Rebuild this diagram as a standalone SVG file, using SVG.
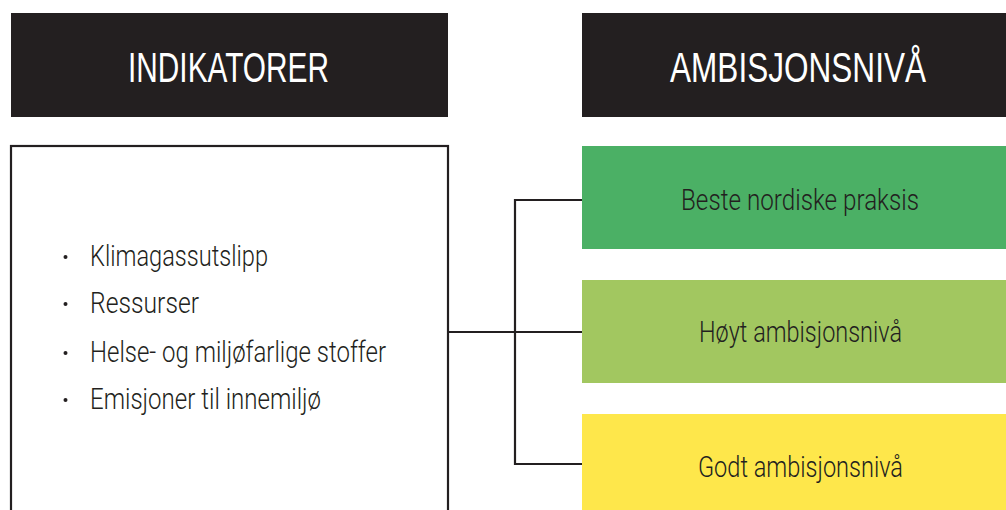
<svg xmlns="http://www.w3.org/2000/svg" width="1006" height="510" viewBox="0 0 1006 510">
<style>
.hdr{fill:#231f20}
.htxt{fill:#ffffff;font-family:"Liberation Sans",Arial,sans-serif;font-size:43px}
.btxt{fill:#231f20;font-family:Roboto,"Liberation Sans",Arial,sans-serif;font-weight:300;font-size:30px}
.conn{fill:none;stroke:#231f20;stroke-width:2.2}
.dot{fill:#231f20}
</style>
<rect width="1006" height="510" fill="#ffffff"/>
<g id="header-indikatorer">
<rect class="hdr" x="11" y="13" width="437" height="104"/>
<text class="htxt" x="128" y="82" textLength="201" lengthAdjust="spacingAndGlyphs">INDIKATORER</text>
</g>
<g id="header-ambisjonsniva">
<rect class="hdr" x="582" y="13" width="424" height="104"/>
<text class="htxt" x="670" y="82" textLength="256" lengthAdjust="spacingAndGlyphs">AMBISJONSNIVÅ</text>
</g>
<g id="indikatorer-box">
<rect x="11" y="146" width="437" height="400" fill="#ffffff" stroke="#231f20" stroke-width="2.2"/>
<circle class="dot" cx="65.5" cy="257" r="2"/>
<text class="btxt" x="90" y="266" textLength="178" lengthAdjust="spacingAndGlyphs">Klimagassutslipp</text>
<circle class="dot" cx="65.5" cy="304" r="2"/>
<text class="btxt" x="90" y="313" textLength="109" lengthAdjust="spacingAndGlyphs">Ressurser</text>
<circle class="dot" cx="65.5" cy="353" r="2"/>
<text class="btxt" x="90" y="362" textLength="296" lengthAdjust="spacingAndGlyphs">Helse- og miljøfarlige stoffer</text>
<circle class="dot" cx="65.5" cy="400" r="2"/>
<text class="btxt" x="90" y="409" textLength="231" lengthAdjust="spacingAndGlyphs">Emisjoner til innemiljø</text>
</g>
<g id="connectors">
<path class="conn" d="M448 332 H582"/>
<path class="conn" d="M582 200 H515 V464 H582"/>
</g>
<g id="beste-nordiske-praksis">
<rect x="582" y="146" width="424" height="103" fill="#4bb065"/>
<text class="btxt" x="681" y="210" textLength="238" lengthAdjust="spacingAndGlyphs">Beste nordiske praksis</text>
</g>
<g id="hoyt-ambisjonsniva">
<rect x="582" y="280" width="424" height="103" fill="#a2c760"/>
<text class="btxt" x="699" y="342" textLength="203" lengthAdjust="spacingAndGlyphs">Høyt ambisjonsnivå</text>
</g>
<g id="godt-ambisjonsniva">
<rect x="582" y="414" width="424" height="103" fill="#fee74b"/>
<text class="btxt" x="698" y="477" textLength="205" lengthAdjust="spacingAndGlyphs">Godt ambisjonsnivå</text>
</g>
</svg>
